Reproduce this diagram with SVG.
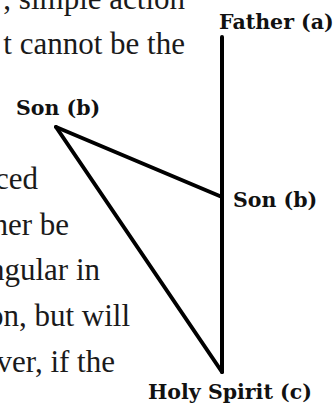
<svg xmlns="http://www.w3.org/2000/svg" width="336" height="404" viewBox="0 0 336 404">
  <style>
    .body { font-family: "Liberation Serif", "Times New Roman", serif; font-size: 31px; fill: #1a1a1a; text-anchor: end; }
    .lbl { font-family: "DejaVu Serif", Georgia, serif; font-weight: bold; font-size: 20.5px; fill: #111; }
    .edge { stroke: #000; stroke-width: 4; fill: none; stroke-linecap: round; stroke-linejoin: round; }
  </style>
  <rect width="336" height="404" fill="#fff"/>
  <g id="page-text">
    <text class="body" x="185" y="9">, simple action</text>
    <text class="body" x="185" y="54">t cannot be the</text>
    <text class="body" x="38" y="189">ced</text>
    <text class="body" x="69" y="235">her be</text>
    <text class="body" x="100" y="280">ngular in</text>
    <text class="body" x="130" y="326">on, but will</text>
    <text class="body" x="115" y="372">ver, if the</text>
  </g>
  <g id="connectors">
    <line class="edge" x1="222" y1="37" x2="222" y2="372"/>
    <line class="edge" x1="56" y1="127" x2="222" y2="197"/>
    <line class="edge" x1="56" y1="127" x2="222" y2="372"/>
  </g>
  <g id="father"><text class="lbl" x="219" y="29">Father (a)</text></g>
  <g id="son-left"><text class="lbl" x="16" y="115">Son (b)</text></g>
  <g id="son-right"><text class="lbl" x="233" y="207">Son (b)</text></g>
  <g id="holy-spirit"><text class="lbl" x="148" y="399">Holy Spirit (c)</text></g>
</svg>
